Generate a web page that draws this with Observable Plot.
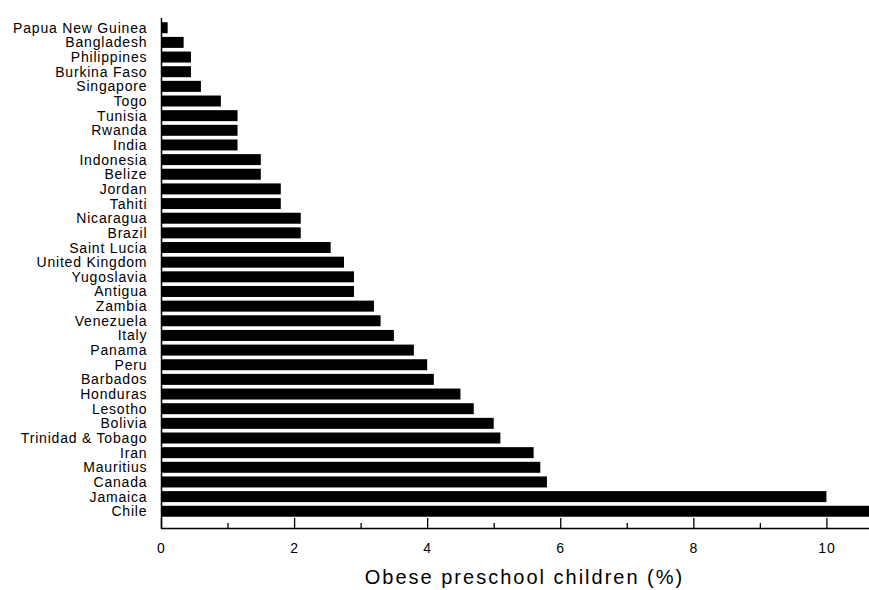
<!DOCTYPE html>
<html>
<head>
<meta charset="utf-8">
<script src="https://cdn.jsdelivr.net/npm/d3@7"></script>
<script src="https://cdn.jsdelivr.net/npm/@observablehq/plot@0.6"></script>
<style>
  html, body { margin: 0; padding: 0; background: #fff; }
  #chart svg { display: block; }
</style>
</head>
<body>
<div id="chart"></div>
<script>
const countries = [
  "Papua New Guinea", "Bangladesh", "Philippines", "Burkina Faso", "Singapore",
  "Togo", "Tunisia", "Rwanda", "India", "Indonesia", "Belize", "Jordan", "Tahiti",
  "Nicaragua", "Brazil", "Saint Lucia", "United Kingdom", "Yugoslavia", "Antigua",
  "Zambia", "Venezuela", "Italy", "Panama", "Peru", "Barbados", "Honduras",
  "Lesotho", "Bolivia", "Trinidad & Tobago", "Iran", "Mauritius", "Canada",
  "Jamaica", "Chile"
];
const values = [
  0.1, 0.34, 0.45, 0.45, 0.6,
  0.9, 1.15, 1.15, 1.15, 1.5, 1.5, 1.8, 1.8,
  2.1, 2.1, 2.55, 2.75, 2.9, 2.9,
  3.2, 3.3, 3.5, 3.8, 4.0, 4.1, 4.5,
  4.7, 5.0, 5.1, 5.6, 5.7, 5.8,
  10.0, 10.7
];
const majorTicks = [0, 2, 4, 6, 8, 10];
const minorTicks = [1, 3, 5, 7, 9];
const xLabel = "Obese preschool children (%)";

const data = countries.map((c, i) => ({country: c, value: values[i]}));

const W = 869, H = 590, mTop = 18, mBottom = 62, mLeft = 161, mRight = 0;
const axisY = H - mBottom;

const chart = Plot.plot({
  width: W,
  height: H,
  marginTop: mTop,
  marginBottom: mBottom,
  marginLeft: mLeft,
  marginRight: mRight,
  style: {fontFamily: "'Liberation Sans', Arial, Helvetica, sans-serif", color: "#000", background: "#fff"},
  x: {domain: [0, 10.64], ticks: majorTicks},
  y: {domain: countries, paddingInner: 0.25, paddingOuter: 0.29, insetBottom: 7, round: false},
  marks: [
    Plot.barX(data, {x: "value", y: "country", fill: "#000", clip: true}),
    Plot.axisY({tickSize: 0, tickPadding: 15, fontSize: 14, label: null}),
    Plot.axisX(majorTicks, {tickSize: 0, tickPadding: 15, fontSize: 14, label: null, tickFormat: d => String(d)}),
    Plot.ruleX(majorTicks, {x: d => d, stroke: "#000", strokeWidth: 1.3, insetTop: (axisY - mTop) - 10}),
    Plot.ruleX(minorTicks, {x: d => d, stroke: "#000", strokeWidth: 1.3, insetTop: (axisY - mTop) - 5}),
    Plot.ruleX([0], {stroke: "#000", strokeWidth: 1.5}),
    Plot.frame({anchor: "bottom", stroke: "#000", strokeWidth: 1.5}),
    Plot.text([xLabel], {text: d => d, frameAnchor: "bottom", dy: 55, dx: 9, fontSize: 20, fill: "#000"})
  ]
});

const root = d3.select(chart);
root.selectAll('g[aria-label="y-axis tick label"] text').attr("letter-spacing", "0.8px").attr("dx", "0.8px");
root.selectAll('g[aria-label="x-axis tick label"] text').attr("letter-spacing", "1px");
root.selectAll('g[aria-label="text"] text').attr("letter-spacing", "2px");
document.getElementById("chart").appendChild(chart);
</script>
</body>
</html>
